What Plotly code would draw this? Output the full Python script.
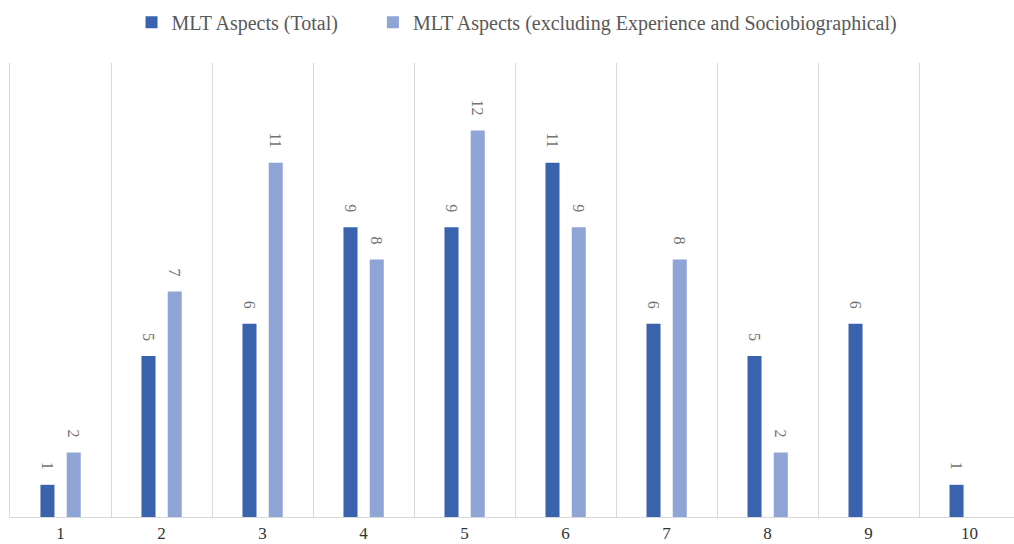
import plotly.graph_objects as go

categories = ["1", "2", "3", "4", "5", "6", "7", "8", "9", "10"]
total = [1, 5, 6, 9, 9, 11, 6, 5, 6, 1]
excluding = [2, 7, 11, 8, 12, 9, 8, 2, None, None]

DARK = "#3a63ae"
LIGHT = "#8fa5d6"
SERIF = "Liberation Serif, Times New Roman, serif"

BAR_W = 0.139
PAD = "\u00a0\u00a0\u00a0"  # keeps the value labels clear of the bar tops
LEGEND_GAP = "\u00a0" * 6   # wider spacing between the two legend entries


def labels(vals):
    return ["" if v is None else str(v) + PAD for v in vals]


label_font = dict(family=SERIF, size=16, color="#737373")

fig = go.Figure()
fig.add_trace(go.Bar(
    x=categories, y=total, name="MLT Aspects (Total)" + LEGEND_GAP,
    marker=dict(color=DARK, line=dict(width=0)),
    width=BAR_W, offset=-0.129 - BAR_W / 2,
    text=labels(total), textposition="outside", textangle=90,
    textfont=label_font, constraintext="none", cliponaxis=False,
))
fig.add_trace(go.Bar(
    x=categories, y=excluding,
    name="MLT Aspects (excluding Experience and Sociobiographical)",
    marker=dict(color=LIGHT, line=dict(width=0)),
    width=BAR_W, offset=0.131 - BAR_W / 2,
    text=labels(excluding), textposition="outside", textangle=90,
    textfont=label_font, constraintext="none", cliponaxis=False,
))

fig.update_layout(
    width=1014, height=544,
    margin=dict(l=10, r=0, t=63, b=27),
    paper_bgcolor="white", plot_bgcolor="white",
    barmode="overlay",
    font=dict(family=SERIF, color="#404040"),
    legend=dict(
        orientation="h", x=0.505, xanchor="center", y=1.09, yanchor="middle",
        font=dict(family=SERIF, size=20, color="#595959"),
        itemsizing="constant",
    ),
    xaxis=dict(
        type="category", range=[-0.5, 9.44], automargin=False,
        tickson="boundaries", ticks="", showgrid=True,
        gridcolor="#d9d9d9", gridwidth=1,
        showline=True, linecolor="#d9d9d9", linewidth=1,
        tickfont=dict(family=SERIF, size=17, color="#333333"),
        ticklabelstandoff=1,
    ),
    yaxis=dict(
        range=[0, 14.1], showgrid=False, zeroline=False, automargin=False,
        showticklabels=False, ticks="",
        showline=True, linecolor="#d9d9d9", linewidth=1,
    ),
)

fig.write_html("out.html")
